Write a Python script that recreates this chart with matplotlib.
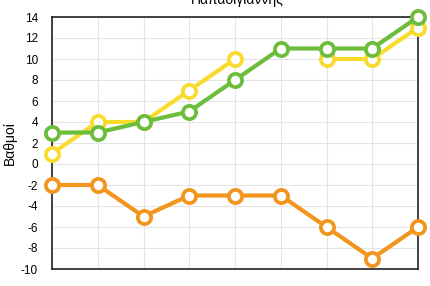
import numpy as np
import matplotlib
matplotlib.use('Agg')
import matplotlib.pyplot as plt

plt.rcParams['font.family'] = ['Liberation Sans', 'DejaVu Sans']

rounds = np.arange(9)
yellow = [1, 4, 4, 7, 10, np.nan, 10, 10, 13]
green = [3, 3, 4, 5, 8, 11, 11, 11, 14]
orange = [-2, -2, -5, -3, -3, -3, -6, -9, -6]
yticks = list(range(-10, 15, 2))
title = 'Παπαδιγιάννης'

fig = plt.figure(figsize=(4.3, 2.86), dpi=100)
ax = fig.add_axes([52 / 430, 1 - 269 / 286, 366 / 430, 252 / 286])

style = dict(lw=3, marker='o', ms=9.5, mew=2.7, mfc='white', clip_on=False)
ax.plot(rounds, yellow, color='#f8db2c', zorder=3, **style)
ax.plot(rounds, green, color='#6cbd3b', zorder=4, **style)
ax.plot(rounds, orange, color='#f2951c', zorder=3, **style)

ax.set_xlim(0, 8)
ax.set_ylim(-10, 14)
ax.set_xticks(rounds)
ax.set_xticklabels([])
ax.set_yticks(yticks)
ax.set_yticklabels([str(t) for t in yticks], fontsize=8.5)
ax.tick_params(length=0, pad=10)
ax.grid(color='#e4e4e4', lw=0.8)
ax.set_axisbelow(True)
for s in ax.spines.values():
    s.set_color('#222222')
    s.set_linewidth(1.2)
ax.set_ylabel('Βαθμοί', fontsize=10, labelpad=3)

fig.text(237 / 430, 1 - 4 / 286, title, ha='center', va='baseline', fontsize=10)

fig.savefig('out.png', dpi=100)
